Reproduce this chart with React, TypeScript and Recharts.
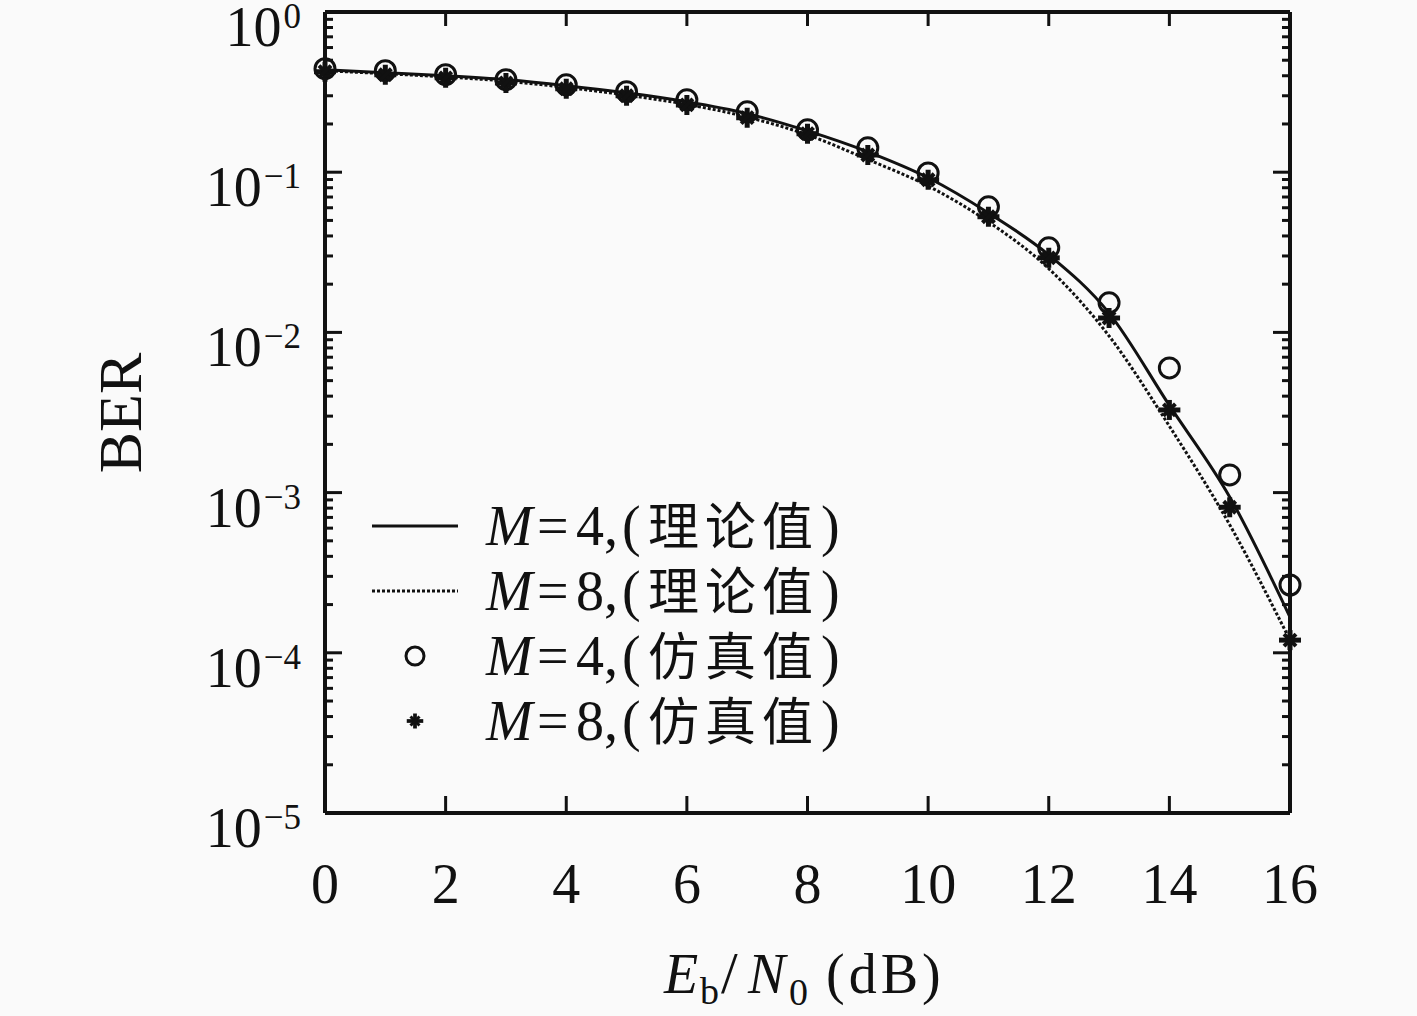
import React from 'react';
import { ComposedChart, Line, XAxis, YAxis } from 'recharts';

// Eb/N0 (dB)
const ebn0 = [0, 1, 2, 3, 4, 5, 6, 7, 8, 9, 10, 11, 12, 13, 14, 15, 16];
// BER, theory curves
const theoryM4 = [0.436, 0.418, 0.4, 0.378, 0.347, 0.313, 0.275, 0.232, 0.181, 0.134, 0.0923, 0.0557, 0.0305, 0.0132, 0.0035, 0.00094, 0.000167];
const theoryM8 = [0.43, 0.412, 0.393, 0.37, 0.338, 0.303, 0.265, 0.221, 0.171, 0.12, 0.082, 0.049, 0.025, 0.0095, 0.0026, 0.00063, 0.00012];
// BER, simulated points
const simM4 = [0.443, 0.43, 0.406, 0.378, 0.351, 0.318, 0.283, 0.238, 0.184, 0.142, 0.099, 0.0608, 0.0337, 0.0153, 0.006, 0.00129, 0.000265];
const simM8 = [0.424, 0.406, 0.388, 0.361, 0.332, 0.3, 0.263, 0.219, 0.174, 0.128, 0.0897, 0.0527, 0.0292, 0.0123, 0.00328, 0.00081, 0.00012];

const xTicks = [0, 2, 4, 6, 8, 10, 12, 14, 16];
const decades = [-5, -4, -3, -2, -1, 0];
const yTicks: number[] = [];
decades.forEach((d) => {
  yTicks.push(Math.pow(10, d));
  if (d < 0) for (let m = 2; m <= 9; m++) yTicks.push(m * Math.pow(10, d));
});

const legendRows = [
  { m: '4', kind: '理论值', mark: 'solid' },
  { m: '8', kind: '理论值', mark: 'dash' },
  { m: '4', kind: '仿真值', mark: 'circle' },
  { m: '8', kind: '仿真值', mark: 'star' },
];

const data = ebn0.map((x, i) => ({ x, th4: theoryM4[i], th8: theoryM8[i], sim4: simM4[i], sim8: simM8[i] }));

const W = 1417;
const H = 1016;
const LEFT = 325;
const RIGHT = 1290;
const TOP = 12;
const BOTTOM = 813;
const SERIF = "'Liberation Serif', 'Times New Roman', serif";
const CJK = "'Noto Sans CJK SC', sans-serif";
const INK = '#111';

const isMajor = (v: number) => Math.abs(Math.log10(v) - Math.round(Math.log10(v))) < 1e-6;

const LeftTick = (props: any) => {
  const { y, payload } = props;
  const v = payload.value;
  const major = isMajor(v);
  const exp = Math.round(Math.log10(v));
  return (
    <g>
      <line x1={LEFT} x2={LEFT + (major ? 17 : 8)} y1={y} y2={y} stroke={INK} strokeWidth={3} />
      {major && (
        <text x={301} y={y + 34} textAnchor="end" fontFamily={SERIF} fill={INK}>
          <tspan fontSize={56}>10</tspan>
          <tspan fontSize={35} dx={2} dy={-18}>{exp === 0 ? '0' : '\u2212' + Math.abs(exp)}</tspan>
        </text>
      )}
    </g>
  );
};

const RightTick = (props: any) => {
  const { y, payload } = props;
  const major = isMajor(payload.value);
  return <line x1={RIGHT} x2={RIGHT - (major ? 17 : 8)} y1={y} y2={y} stroke={INK} strokeWidth={3} />;
};

const BottomTick = (props: any) => {
  const { x, payload } = props;
  return (
    <g>
      <line x1={x} x2={x} y1={BOTTOM} y2={BOTTOM - 17} stroke={INK} strokeWidth={3} />
      <text x={x} y={BOTTOM + 90} textAnchor="middle" fontFamily={SERIF} fontSize={56} fill={INK}>
        {payload.value}
      </text>
    </g>
  );
};

const TopTick = (props: any) => {
  const { x } = props;
  return <line x1={x} x2={x} y1={TOP} y2={TOP + 14} stroke={INK} strokeWidth={3} />;
};

const circleDot = (props: any) => {
  const { cx, cy, index } = props;
  if (cx == null || cy == null) return <g key={index} />;
  return <circle key={index} cx={cx} cy={cy} r={10} fill="none" stroke={INK} strokeWidth={3} />;
};

const Star = ({ cx, cy, s = 1 }: { cx: number; cy: number; s?: number }) => (
  <g>
    <line x1={cx - 11 * s} x2={cx + 11 * s} y1={cy} y2={cy} stroke={INK} strokeWidth={5 * s} />
    <line x1={cx} x2={cx} y1={cy - 10 * s} y2={cy + 10 * s} stroke={INK} strokeWidth={5 * s} />
    <line x1={cx - 6 * s} x2={cx + 6 * s} y1={cy - 6 * s} y2={cy + 6 * s} stroke={INK} strokeWidth={4 * s} />
    <line x1={cx - 6 * s} x2={cx + 6 * s} y1={cy + 6 * s} y2={cy - 6 * s} stroke={INK} strokeWidth={4 * s} />
  </g>
);

const starDot = (props: any) => {
  const { cx, cy, index } = props;
  if (cx == null || cy == null) return <g key={index} />;
  return (
    <g key={index}>
      <Star cx={cx} cy={cy} />
    </g>
  );
};

function Legend() {
  return (
    <g>
      {legendRows.map((r, i) => {
        const cy = 526 + i * 65;
        const base = cy + 19;
        let mark: React.ReactNode = null;
        if (r.mark === 'solid') mark = <line x1={372} x2={458} y1={cy} y2={cy} stroke={INK} strokeWidth={3} />;
        if (r.mark === 'dash') mark = <line x1={372} x2={458} y1={cy} y2={cy} stroke={INK} strokeWidth={3} strokeDasharray="3 2" />;
        if (r.mark === 'circle') mark = <circle cx={415} cy={cy} r={9} fill="none" stroke={INK} strokeWidth={3} />;
        if (r.mark === 'star') mark = <Star cx={415} cy={cy} s={0.75} />;
        return (
          <g key={i}>
            {mark}
            <text y={base} fontFamily={SERIF} fontSize={56} fill={INK}>
              <tspan x={486} fontStyle="italic">M</tspan>
              <tspan x={537}>=</tspan>
              <tspan x={576}>{r.m}</tspan>
              <tspan x={604}>,</tspan>
              <tspan x={622}>(</tspan>
              <tspan x={648} fontFamily={CJK} fontSize={51} letterSpacing={6}>{r.kind}</tspan>
              <tspan x={821}>)</tspan>
            </text>
          </g>
        );
      })}
    </g>
  );
}

export default function App() {
  return (
    <div style={{ position: 'absolute', left: 0, top: 0, width: W, height: H, background: '#fafafa' }}>
      <ComposedChart width={W} height={H} data={data} margin={{ top: TOP - 1, right: W - RIGHT - 10, bottom: 0, left: 0 }}>
        <XAxis
          dataKey="x"
          type="number"
          domain={[0, 16]}
          ticks={xTicks}
          interval={0}
          height={H - BOTTOM}
          axisLine={{ stroke: INK, strokeWidth: 4 }}
          tickLine={false}
          tick={BottomTick}
        />
        <XAxis
          xAxisId="top"
          orientation="top"
          dataKey="x"
          type="number"
          domain={[0, 16]}
          ticks={xTicks}
          interval={0}
          height={1}
          axisLine={{ stroke: INK, strokeWidth: 4 }}
          tickLine={false}
          tick={TopTick}
        />
        <YAxis
          scale="log"
          domain={[1e-5, 1]}
          allowDataOverflow
          ticks={yTicks}
          interval={0}
          width={LEFT}
          axisLine={{ stroke: INK, strokeWidth: 4 }}
          tickLine={false}
          tick={LeftTick}
        />
        <YAxis
          yAxisId="right"
          orientation="right"
          scale="log"
          domain={[1e-5, 1]}
          allowDataOverflow
          ticks={yTicks}
          interval={0}
          width={10}
          axisLine={{ stroke: INK, strokeWidth: 4 }}
          tickLine={false}
          tick={RightTick}
        />
        <Line dataKey="th4" type="monotone" stroke={INK} strokeWidth={3} dot={false} activeDot={false} isAnimationActive={false} />
        <Line dataKey="th8" type="monotone" stroke={INK} strokeWidth={3} strokeDasharray="3 2" dot={false} activeDot={false} isAnimationActive={false} />
        <Line dataKey="sim4" stroke="none" dot={circleDot} activeDot={false} isAnimationActive={false} />
        <Line dataKey="sim8" stroke="none" dot={starDot} activeDot={false} isAnimationActive={false} />
      </ComposedChart>
      <svg width={W} height={H} style={{ position: 'absolute', left: 0, top: 0, pointerEvents: 'none' }}>
        <Legend />
        <text x={120} y={413} transform="rotate(-90 120 413)" textAnchor="middle" dominantBaseline="central" fontFamily={SERIF} fontSize={62} fill={INK}>
          BER
        </text>
        <text y={993} fontFamily={SERIF} fontSize={56} fill={INK}>
          <tspan x={664} fontStyle="italic">E</tspan>
          <tspan x={700} y={1004} fontSize={38}>b</tspan>
          <tspan x={721} y={993} fontSize={60}>/</tspan>
          <tspan x={748} fontStyle="italic">N</tspan>
          <tspan x={789} y={1005} fontSize={38}>0</tspan>
          <tspan x={826} y={993} letterSpacing={4}>(dB)</tspan>
        </text>
      </svg>
    </div>
  );
}
